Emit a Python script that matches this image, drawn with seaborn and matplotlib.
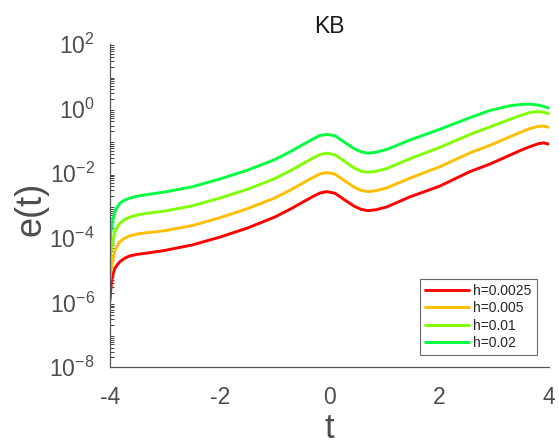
import numpy as np
import pandas as pd
import matplotlib
matplotlib.use("Agg")
import matplotlib.pyplot as plt
from matplotlib.ticker import NullFormatter, FixedLocator
import seaborn as sns

# ---- data (values are log10 of e(t)) ----
t = [-4.0, -3.985, -3.97, -3.94, -3.91, -3.86, -3.82, -3.73, -3.64, -3.5, -3.36,
     -3.0, -2.5, -2.0, -1.5, -1.0, -0.7, -0.45, -0.3, -0.17, -0.05, 0.1, 0.28,
     0.46, 0.58, 0.7, 0.85, 1.05, 1.47, 2.01, 2.56, 2.92, 3.29, 3.5, 3.65, 3.8,
     3.9, 4.0]
log_h0025 = [-5.93, -5.60, -5.31, -5.08, -4.94, -4.82, -4.74, -4.63, -4.56, -4.51,
             -4.48, -4.39, -4.22, -3.98, -3.70, -3.36, -3.10, -2.86, -2.72, -2.61,
             -2.57, -2.62, -2.83, -3.03, -3.12, -3.16, -3.13, -3.04, -2.73, -2.40,
             -1.95, -1.72, -1.44, -1.28, -1.18, -1.09, -1.06, -1.10]
log_h005 = [-5.31, -5.05, -4.89, -4.60, -4.38, -4.22, -4.12, -4.01, -3.94, -3.88,
            -3.85, -3.78, -3.62, -3.38, -3.10, -2.77, -2.51, -2.27, -2.13, -2.02,
            -1.98, -2.03, -2.24, -2.44, -2.53, -2.57, -2.54, -2.45, -2.15, -1.80,
            -1.37, -1.14, -0.87, -0.72, -0.62, -0.55, -0.54, -0.58]
log_h01 = [-4.69, -4.45, -4.28, -4.00, -3.81, -3.65, -3.55, -3.43, -3.36, -3.29,
           -3.25, -3.17, -3.01, -2.77, -2.50, -2.17, -1.91, -1.67, -1.53, -1.42,
           -1.38, -1.43, -1.64, -1.85, -1.94, -1.97, -1.94, -1.85, -1.55, -1.20,
           -0.80, -0.57, -0.33, -0.20, -0.12, -0.09, -0.11, -0.16]
log_h02 = [-4.07, -3.85, -3.66, -3.38, -3.19, -3.03, -2.93, -2.83, -2.77, -2.71,
           -2.67, -2.58, -2.42, -2.18, -1.91, -1.58, -1.32, -1.08, -0.94, -0.83,
           -0.80, -0.84, -1.05, -1.25, -1.34, -1.38, -1.35, -1.26, -0.97, -0.64,
           -0.28, -0.06, 0.09, 0.13, 0.14, 0.11, 0.07, 0.01]
labels = ["h=0.0025", "h=0.005", "h=0.01", "h=0.02"]
colors = ["#FF0000", "#FFBF00", "#80FF00", "#00FF40"]
xticks = [-4, -2, 0, 2, 4]
yticks = [1e-8, 1e-6, 1e-4, 1e-2, 1e0, 1e2]

frames = []
for lab, vals in zip(labels, [log_h0025, log_h005, log_h01, log_h02]):
    frames.append(pd.DataFrame({"t": t, "e": 10.0 ** np.array(vals), "h": lab}))
df = pd.concat(frames, ignore_index=True)

sns.set_style("white")
plt.rcParams["font.family"] = ["Liberation Sans", "DejaVu Sans"]
plt.rcParams["axes.unicode_minus"] = False
plt.rcParams["mathtext.fontset"] = "custom"
plt.rcParams["mathtext.rm"] = "Liberation Sans"
plt.rcParams["mathtext.it"] = "Liberation Sans:italic"
plt.rcParams["mathtext.bf"] = "Liberation Sans:bold"

fig = plt.figure(figsize=(5.59, 4.46), dpi=100)
ax = fig.add_axes([0.1968, 0.1771, 0.7852, 0.7242])

sns.lineplot(data=df, x="t", y="e", hue="h", palette=dict(zip(labels, colors)),
             hue_order=labels, linewidth=2.1, ax=ax, sort=False)

ax.set_yscale("log")
ax.set_xlim(-4, 4)
ax.set_ylim(1e-8, 1e2)
ax.xaxis.set_major_locator(FixedLocator(xticks))
ax.yaxis.set_major_locator(FixedLocator(yticks))
minor = [k * 10.0 ** d for d in range(-8, 2) for k in range(2, 10)]
ax.yaxis.set_minor_locator(FixedLocator(minor))
ax.yaxis.set_minor_formatter(NullFormatter())

tick_color = "#4d4d4d"
ax.tick_params(axis="both", which="major", direction="in", length=5, width=0.8,
               colors="#262626", labelcolor=tick_color, labelsize=16.5)
ax.tick_params(axis="y", which="minor", direction="in", length=3, width=0.6,
               colors="#262626", left=True)
ax.tick_params(axis="x", which="major", pad=13.5)
ax.tick_params(axis="y", which="major", pad=11)

for s in ["top", "right"]:
    ax.spines[s].set_visible(False)
for s in ["left", "bottom"]:
    ax.spines[s].set_color("#555555")
    ax.spines[s].set_linewidth(0.9)

ax.set_title("KB", fontsize=16.5, color="#1a1a1a", pad=8)
ax.set_xlabel("t", fontsize=25, color=tick_color)
ax.set_ylabel("e(t)", fontsize=26, color=tick_color)
ax.xaxis.set_label_coords(0.5, -0.138)
ax.yaxis.set_label_coords(-0.141, 0.49)

leg = ax.legend(loc="lower right", bbox_to_anchor=(0.972, 0.037), borderaxespad=0,
                fontsize=10, frameon=True, fancybox=False, handlelength=3.2,
                handletextpad=0.3, labelspacing=0.25, borderpad=0.35)
leg.get_frame().set_edgecolor("#444444")
leg.get_frame().set_linewidth(0.8)
for line in leg.get_lines():
    line.set_linewidth(2.1)

fig.savefig("out.png", dpi=100)
